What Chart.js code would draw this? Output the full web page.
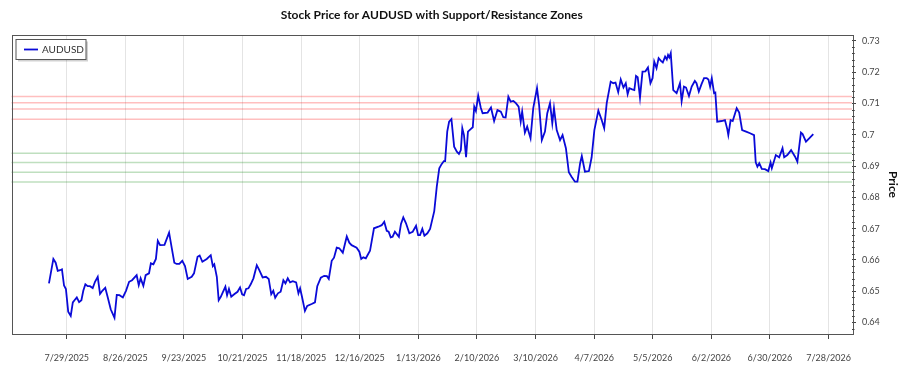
<!DOCTYPE html>
<html lang="en">
<head>
  <meta charset="UTF-8" />
  <title>AUDUSD Support/Resistance</title>
  <script src="https://cdn.jsdelivr.net/npm/chart.js"></script>
  <style>
    html, body {
      margin: 0;
      padding: 0;
      background: #fff;
    }
    .chart-container {
      width: 900px;
      height: 375px;
    }
  </style>
</head>
<body>
  <div class="chart-container">
    <canvas id="priceChart"></canvas>
  </div>

  <script>
    // days counted from 7/29/2025
    const dayOffsets = [
      -8.5, -6.4, -5.3, -4.3, -3.2, -2.3, -1.3, -0.4, 0.7, 1.9,
      2.9, 3.7, 4.8, 5.9, 7.0, 7.9, 8.9, 10.0, 11.1, 12.4,
      13.5, 14.8, 15.9, 17.0, 18.4, 19.7, 21.0, 22.8, 23.9, 25.2,
      26.8, 28.3, 29.8, 31.2, 33.4, 34.4, 35.3, 36.6, 37.7, 39.3,
      40.2, 41.4, 42.6, 43.5, 44.6, 46.7, 48.9, 50.2, 51.4, 52.5,
      53.8, 55.2, 56.5, 57.8, 59.7, 60.8, 62.5, 63.5, 64.8, 66.9,
      68.8, 69.8, 70.5, 71.7, 72.6, 73.6, 74.5, 75.8, 76.6, 77.5,
      78.6, 80.0, 81.6, 82.8, 83.8, 84.7, 85.7, 86.8, 87.9, 89.2,
      90.8, 92.0, 93.6, 95.2, 96.5, 97.7, 98.7, 99.6, 100.9, 102.2,
      103.5, 104.5, 105.6, 106.7, 108.0, 109.6, 110.7, 111.5, 112.4, 113.8,
      114.9, 117.0, 118.6, 119.7, 121.4, 123.0, 124.3, 125.2, 126.6, 127.7,
      129.0, 130.2, 131.9, 133.0, 133.8, 135.0, 136.1, 138.5, 139.8, 140.7,
      141.7, 142.9, 144.9, 146.8, 148.9, 150.5, 151.7, 152.9, 153.8, 154.8,
      155.7, 156.8, 158.7, 159.7, 160.8, 162.1, 163.7, 165.3, 166.9, 167.9,
      168.8, 169.9, 170.9, 172.3, 173.6, 175.6, 176.8, 178.0, 179.1, 180.2,
      180.8, 181.8, 182.7, 183.8, 185.1, 186.4, 187.4, 188.3, 189.0, 189.8,
      190.8, 191.7, 193.0, 194.0, 194.7, 195.5, 196.6, 197.8, 198.7, 201.1,
      202.7, 204.2, 205.8, 207.4, 208.6, 209.7, 211.0, 212.1, 213.4, 214.6,
      215.9, 216.9, 217.6, 218.9, 220.0, 221.6, 222.9, 224.7, 225.7, 227.0,
      228.5, 229.6, 230.9, 232.0, 232.8, 234.1, 235.7, 236.9, 238.5, 239.9,
      241.2, 242.8, 244.0, 245.3, 246.1, 247.6, 249.5, 250.8, 252.1, 254.0,
      255.6, 256.8, 258.0, 259.9, 261.1, 262.2, 263.5, 264.7, 266.0, 267.1,
      268.0, 268.8, 270.2, 271.2, 272.0, 272.8, 273.9, 275.1, 276.5, 277.7,
      278.9, 279.9, 280.7, 281.8, 282.8, 283.8, 284.8, 285.9, 286.7, 287.3,
      287.9, 288.6, 289.8, 291.4, 293.0, 293.8, 294.9, 295.9, 297.3, 298.6,
      300.1, 300.9, 302.0, 303.3, 304.5, 305.8, 306.6, 307.4, 308.2, 309.3,
      309.9, 310.8, 312.9, 314.5, 315.6, 316.1, 317.2, 318.2, 320.1, 321.3,
      322.7, 324.6, 326.5, 328.4, 329.2, 330.0, 330.9, 332.1, 333.6, 335.2,
      336.3, 336.9, 338.8, 340.4, 342.0, 342.8, 344.3, 346.1, 348.0, 349.1,
      350.8, 351.6, 353.2, 355.1, 356.7
    ];

    const prices = [
      0.6525, 0.6603, 0.6591, 0.6565, 0.6567, 0.6570, 0.6518, 0.6507, 0.6434, 0.6421,
      0.6464, 0.6471, 0.6480, 0.6465, 0.6471, 0.6501, 0.6522, 0.6516, 0.6516, 0.6510,
      0.6530, 0.6546, 0.6491, 0.6501, 0.6511, 0.6477, 0.6442, 0.6415, 0.6488, 0.6487,
      0.6480, 0.6501, 0.6530, 0.6535, 0.6551, 0.6519, 0.6541, 0.6517, 0.6551, 0.6557,
      0.6589, 0.6586, 0.6603, 0.6661, 0.6647, 0.6648, 0.6687, 0.6637, 0.6591, 0.6587,
      0.6587, 0.6597, 0.6580, 0.6539, 0.6546, 0.6557, 0.6610, 0.6614, 0.6594, 0.6603,
      0.6615, 0.6580, 0.6586, 0.6546, 0.6471, 0.6482, 0.6495, 0.6514, 0.6487, 0.6507,
      0.6482, 0.6490, 0.6498, 0.6512, 0.6490, 0.6487, 0.6507, 0.6509, 0.6522, 0.6541,
      0.6583, 0.6567, 0.6544, 0.6546, 0.6539, 0.6490, 0.6501, 0.6479, 0.6493, 0.6498,
      0.6535, 0.6525, 0.6541, 0.6528, 0.6532, 0.6528, 0.6493, 0.6509, 0.6482, 0.6437,
      0.6453, 0.6459, 0.6464, 0.6516, 0.6543, 0.6549, 0.6548, 0.6539, 0.6597, 0.6607,
      0.6639, 0.6637, 0.6623, 0.6653, 0.6675, 0.6655, 0.6647, 0.6639, 0.6626, 0.6603,
      0.6608, 0.6605, 0.6629, 0.6701, 0.6706, 0.6711, 0.6722, 0.6693, 0.6690, 0.6672,
      0.6674, 0.6690, 0.6674, 0.6715, 0.6736, 0.6717, 0.6685, 0.6690, 0.6709, 0.6679,
      0.6679, 0.6699, 0.6677, 0.6685, 0.6699, 0.6756, 0.6834, 0.6893, 0.6906, 0.6916,
      0.6916, 0.7010, 0.7042, 0.7050, 0.6962, 0.6946, 0.6939, 0.6951, 0.7021, 0.6999,
      0.6928, 0.7010, 0.7018, 0.7024, 0.7090, 0.7076, 0.7125, 0.7087, 0.7069, 0.7071,
      0.7087, 0.7044, 0.7079, 0.7074, 0.7056, 0.7055, 0.7122, 0.7106, 0.7108, 0.7101,
      0.7090, 0.7042, 0.7074, 0.7007, 0.7026, 0.6989, 0.7085, 0.7149, 0.7095, 0.6983,
      0.7010, 0.7069, 0.7101, 0.7037, 0.7085, 0.7015, 0.6983, 0.6999, 0.6957, 0.6880,
      0.6866, 0.6850, 0.6850, 0.6909, 0.6932, 0.6882, 0.6884, 0.6928, 0.7015, 0.7077,
      0.7047, 0.7021, 0.7101, 0.7170, 0.7165, 0.7167, 0.7136, 0.7177, 0.7151, 0.7165,
      0.7130, 0.7149, 0.7145, 0.7143, 0.7188, 0.7184, 0.7119, 0.7202, 0.7203, 0.7215,
      0.7165, 0.7181, 0.7234, 0.7213, 0.7245, 0.7237, 0.7231, 0.7250, 0.7241, 0.7255,
      0.7247, 0.7261, 0.7143, 0.7133, 0.7165, 0.7108, 0.7154, 0.7151, 0.7124, 0.7154,
      0.7172, 0.7165, 0.7138, 0.7162, 0.7181, 0.7181, 0.7177, 0.7154, 0.7181, 0.7133,
      0.7135, 0.7042, 0.7044, 0.7047, 0.7018, 0.6999, 0.7047, 0.7044, 0.7085, 0.7071,
      0.7015, 0.7010, 0.7005, 0.6999, 0.6912, 0.6898, 0.6909, 0.6891, 0.6890, 0.6884,
      0.6911, 0.6893, 0.6935, 0.6928, 0.6957, 0.6928, 0.6935, 0.6951, 0.6930, 0.6914,
      0.7007, 0.7002, 0.6978, 0.6991, 0.7002
    ];

    const resistanceLevels = [0.7122, 0.7102, 0.7082, 0.7050];
    const supportLevels = [0.6941, 0.6911, 0.6880, 0.6849];

    const xTickDays = [0, 28, 56, 84, 112, 140, 168, 196, 224, 252, 280, 308, 336, 364];
    const xTickLabels = [
      '7/29/2025', '8/26/2025', '9/23/2025', '10/21/2025', '11/18/2025', '12/16/2025', '1/13/2026',
      '2/10/2026', '3/10/2026', '4/7/2026', '5/5/2026', '6/2/2026', '6/30/2026', '7/28/2026'
    ];
    const yTickValues = [0.64, 0.65, 0.66, 0.67, 0.68, 0.69, 0.70, 0.71, 0.72, 0.73];

    const FONT = 'Lato, "Noto Sans", sans-serif';

    // support / resistance lines behind the price line
    const zonesPlugin = {
      id: 'zones',
      beforeDatasetsDraw(chart) {
        const { ctx, chartArea, scales } = chart;
        ctx.save();
        ctx.lineWidth = 1.5;
        const drawLevel = (v, color) => {
          const y = scales.y.getPixelForValue(v);
          ctx.strokeStyle = color;
          ctx.beginPath();
          ctx.moveTo(chartArea.left, y);
          ctx.lineTo(chartArea.right, y);
          ctx.stroke();
        };
        resistanceLevels.forEach(v => drawLevel(v, 'rgba(255, 0, 0, 0.25)'));
        supportLevels.forEach(v => drawLevel(v, 'rgba(0, 128, 0, 0.25)'));
        ctx.restore();
      }
    };

    // frame, minor y ticks and the little legend box
    const framePlugin = {
      id: 'frame',
      afterDraw(chart) {
        const { ctx, chartArea, scales } = chart;
        const a = chartArea;
        ctx.save();
        ctx.strokeStyle = '#555';
        ctx.lineWidth = 1;
        ctx.strokeRect(Math.round(a.left) + 0.5, Math.round(a.top) + 0.5,
          Math.round(a.right - a.left), Math.round(a.bottom - a.top));

        // minor ticks every 0.002
        ctx.strokeStyle = '#444';
        const minorTick = (v) => {
          if (v < scales.y.min || v > scales.y.max) return;
          const y = Math.round(scales.y.getPixelForValue(v)) + 0.5;
          ctx.beginPath();
          ctx.moveTo(a.right, y);
          ctx.lineTo(a.right + 2.5, y);
          ctx.stroke();
        };
        yTickValues.forEach(v => {
          for (let k = 1; k < 5; k++) {
            minorTick(v + k * 0.002);
            minorTick(v - k * 0.002);
          }
        });

        // legend
        const ds = chart.data.datasets[0];
        const bx = a.left + 4.5, by = a.top + 4.5, bw = 70, bh = 20;
        ctx.fillStyle = 'rgba(0,0,0,0.18)';
        ctx.fillRect(bx + 2, by + 2, bw, bh);
        ctx.fillStyle = '#fff';
        ctx.fillRect(bx, by, bw, bh);
        ctx.strokeStyle = '#555';
        ctx.strokeRect(bx, by, bw, bh);
        ctx.strokeStyle = ds.borderColor;
        ctx.lineWidth = 1.8;
        ctx.beginPath();
        ctx.moveTo(bx + 8, by + 10);
        ctx.lineTo(bx + 22, by + 10);
        ctx.stroke();
        ctx.fillStyle = '#333';
        ctx.font = '10px ' + FONT;
        ctx.textBaseline = 'middle';
        ctx.fillText(ds.label, bx + 26, by + 10);
        ctx.restore();
      }
    };

    new Chart(document.getElementById('priceChart'), {
      type: 'line',
      data: {
        datasets: [{
          label: 'AUDUSD',
          data: dayOffsets.map((d, i) => ({ x: d, y: prices[i] })),
          borderColor: '#0a0ad8',
          borderWidth: 1.8,
          pointRadius: 0,
          tension: 0,
          fill: false
        }]
      },
      plugins: [zonesPlugin, framePlugin],
      options: {
        responsive: true,
        maintainAspectRatio: false,
        animation: false,
        layout: { padding: { left: 11.5, right: 0, top: 0, bottom: 0 } },
        plugins: {
          legend: { display: false },
          tooltip: { enabled: false },
          title: {
            display: true,
            fullSize: false,
            text: 'Stock Price for AUDUSD with Support/Resistance Zones',
            color: '#111',
            font: { family: FONT, size: 12, weight: 'bold' },
            padding: { top: 8, bottom: 12.6 }
          }
        },
        scales: {
          x: {
            type: 'linear',
            min: -26.4,
            max: 375.2,
            afterBuildTicks(scale) {
              scale.ticks = xTickDays.map(v => ({ value: v }));
            },
            afterFit(scale) {
              scale.height = 41;
            },
            ticks: {
              autoSkip: false,
              maxRotation: 0,
              padding: 14,
              color: '#444',
              font: { family: FONT, size: 9 },
              callback: (value) => xTickLabels[xTickDays.indexOf(value)] || ''
            },
            grid: {
              color: '#e4e4e4',
              lineWidth: 1,
              tickColor: '#444',
              tickLength: 5
            },
            border: { display: false }
          },
          y: {
            position: 'right',
            min: 0.6363,
            max: 0.7319,
            afterBuildTicks(scale) {
              scale.ticks = yTickValues.map(v => ({ value: v }));
            },
            afterFit(scale) {
              scale.width = 48;
            },
            ticks: {
              padding: 6,
              color: '#444',
              font: { family: FONT, size: 9 },
              callback: (value) => String(+value.toFixed(2))
            },
            grid: {
              drawOnChartArea: false,
              tickColor: '#444',
              tickLength: 4
            },
            border: { display: false },
            title: {
              display: true,
              text: 'Price',
              color: '#111',
              font: { family: FONT, size: 12, weight: 'bold' },
              padding: { top: 0, bottom: 8 }
            }
          }
        }
      }
    });
  </script>
</body>
</html>
